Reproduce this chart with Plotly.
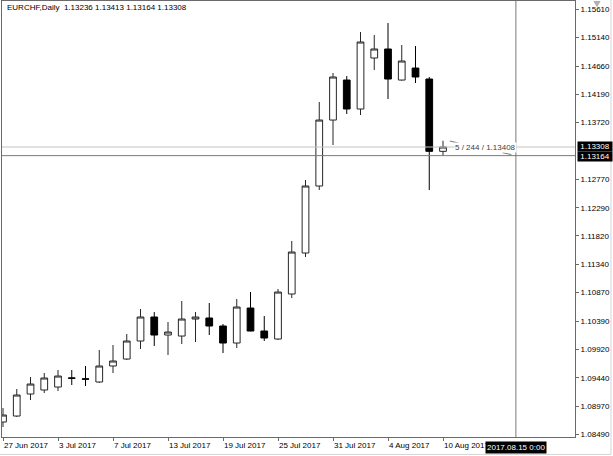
import plotly.graph_objects as go

# ---- data (EURCHF daily) ----
dates = ["27 Jun 2017", "28 Jun 2017", "29 Jun 2017", "30 Jun 2017",
         "3 Jul 2017", "4 Jul 2017", "5 Jul 2017", "6 Jul 2017", "7 Jul 2017",
         "10 Jul 2017", "11 Jul 2017", "12 Jul 2017", "13 Jul 2017", "14 Jul 2017",
         "17 Jul 2017", "18 Jul 2017", "19 Jul 2017", "20 Jul 2017", "21 Jul 2017",
         "24 Jul 2017", "25 Jul 2017", "26 Jul 2017", "27 Jul 2017", "28 Jul 2017",
         "31 Jul 2017", "1 Aug 2017", "2 Aug 2017", "3 Aug 2017", "4 Aug 2017",
         "7 Aug 2017", "8 Aug 2017", "9 Aug 2017", "10 Aug 2017"]

opens = [1.08702, 1.08802, 1.09171, 1.09238, 1.09288, 1.09441, 1.09425, 1.09372,
         1.09640, 1.09757, 1.10059, 1.10461, 1.10159, 1.10142, 1.10427, 1.10444,
         1.10310, 1.10025, 1.10611, 1.10226, 1.10092, 1.10846, 1.11533, 1.12655,
         1.13760, 1.14430, 1.13945, 1.14799, 1.14950, 1.14430, 1.14631, 1.14447,
         1.13236]
highs = [1.08936, 1.09255, 1.09456, 1.09523, 1.09573, 1.09573, 1.09640, 1.09908,
         1.09992, 1.10176, 1.10595, 1.10544, 1.10377, 1.10729, 1.10544, 1.10695,
         1.10343, 1.10762, 1.10879, 1.10477, 1.10930, 1.11734, 1.12755, 1.14062,
         1.14548, 1.14497, 1.15234, 1.15184, 1.15385, 1.15017, 1.15000, 1.14481,
         1.13413]
lows = [1.08618, 1.08786, 1.09070, 1.09188, 1.09221, 1.09322, 1.09305, 1.09355,
        1.09523, 1.09740, 1.09925, 1.09975, 1.09824, 1.10008, 1.10042, 1.10159,
        1.09858, 1.09941, 1.10220, 1.10059, 1.10075, 1.10779, 1.11466, 1.12588,
        1.13342, 1.13861, 1.13844, 1.14598, 1.14112, 1.14420, 1.14380, 1.12588,
        1.13164]
closes = [1.08819, 1.09154, 1.09338, 1.09439, 1.09472, 1.09435, 1.09420, 1.09640,
          1.09724, 1.10059, 1.10461, 1.10159, 1.10209, 1.10427, 1.10461, 1.10310,
          1.10025, 1.10628, 1.10226, 1.10109, 1.10879, 1.11549, 1.12655, 1.13760,
          1.14481, 1.13945, 1.15067, 1.14950, 1.14447, 1.14749, 1.14481, 1.13236,
          1.13308]

x_tick_idx = [0, 4, 8, 12, 16, 20, 24, 28, 32]
x_tick_labels = ["27 Jun 2017", "3 Jul 2017", "7 Jul 2017", "13 Jul 2017",
                 "19 Jul 2017", "25 Jul 2017", "31 Jul 2017", "4 Aug 2017",
                 "10 Aug 2017"]
y_tick_vals = [1.15610, 1.15140, 1.14660, 1.14190, 1.13720, 1.12770, 1.12290,
               1.11820, 1.11340, 1.10870, 1.10390, 1.09920, 1.09440, 1.08970,
               1.08490]
y_tick_labels = ["%.5f" % v for v in y_tick_vals]

symbol_title = "EURCHF,Daily"
bid_price = 1.13308
cross_price = 1.13164
cross_idx = 37.3
cross_time_label = "2017.08.15 0:00"
drag_start_idx = 32.5
drag_start_price = 1.13408
measure_label = "5 / 244 / 1.13408"

FONT = "Liberation Sans, Arial, sans-serif"
FS = 8
AXC = "#6a6a6a"

x = list(range(len(dates)))

fig = go.Figure()
fig.add_trace(go.Candlestick(
    x=x, open=opens, high=highs, low=lows, close=closes,
    increasing=dict(fillcolor="#ffffff", line=dict(color="#262626", width=1)),
    decreasing=dict(fillcolor="#000000", line=dict(color="#000000", width=1)),
    whiskerwidth=0, hoverinfo="skip", showlegend=False,
))

# bid line, crosshair, measuring line
fig.add_shape(type="line", xref="paper", x0=0, x1=1, yref="y", y0=bid_price, y1=bid_price,
              line=dict(color="#c4c4c4", width=1))
fig.add_shape(type="line", xref="paper", x0=0, x1=1, yref="y", y0=cross_price, y1=cross_price,
              line=dict(color="#7a7a7a", width=1))
fig.add_shape(type="line", xref="x", x0=cross_idx, x1=cross_idx, yref="paper", y0=0, y1=1,
              line=dict(color="#7a7a7a", width=1))
fig.add_shape(type="line", xref="x", x0=drag_start_idx, x1=cross_idx,
              yref="y", y0=drag_start_price, y1=cross_price,
              line=dict(color="#7a7a7a", width=1, dash="dash"))

# window decorations
fig.add_shape(type="path", xref="paper", yref="paper",
              path="M 1.0332 0.999 L 1.0436 0.999 L 1.0384 0.9875 Z",
              fillcolor="#b0b0b0", line=dict(color="#b0b0b0", width=1))
fig.add_shape(type="line", xref="paper", yref="paper", x0=1.0628, x1=1.0628, y0=-0.04, y1=1.003,
              line=dict(color="#d4d4d4", width=1))
fig.add_shape(type="line", xref="paper", yref="paper", x0=-0.004, x1=1.0628, y0=-0.04, y1=-0.04,
              line=dict(color="#d4d4d4", width=1))

ohlc_text = " ".join("%.5f" % v for v in (opens[-1], highs[-1], lows[-1], closes[-1]))
annotations = [
    dict(text=symbol_title + "\u00a0\u00a0" + ohlc_text, xref="paper", yref="paper",
         x=0.006, y=1.0, xanchor="left", yanchor="top", showarrow=False,
         font=dict(family=FONT, size=FS, color="#000000")),
    dict(text=measure_label, xref="x", yref="y", x=32.8, y=bid_price,
         xanchor="left", yanchor="middle", showarrow=False, bgcolor="#ffffff",
         borderpad=0, font=dict(family=FONT, size=FS, color="#404040")),
    dict(text="%.5f" % bid_price, xref="paper", yref="y", x=1.0035, y=bid_price,
         xanchor="left", yanchor="middle", showarrow=False, bgcolor="#000000",
         borderpad=1, width=32, height=7, yshift=0.5,
         font=dict(family=FONT, size=FS, color="#ffffff")),
    dict(text="%.5f" % cross_price, xref="paper", yref="y", x=1.0035, y=cross_price,
         xanchor="left", yanchor="middle", showarrow=False, bgcolor="#000000",
         borderpad=1, width=32, height=7, yshift=-0.5,
         font=dict(family=FONT, size=FS, color="#ffffff")),
    dict(text=cross_time_label, xref="x", yref="paper", x=cross_idx, y=0,
         xanchor="center", yanchor="top", yshift=-4, showarrow=False,
         bgcolor="#000000", borderpad=1,
         font=dict(family=FONT, size=FS, color="#ffffff")),
]

fig.update_layout(
    width=613, height=456,
    margin=dict(l=2, r=38, t=1, b=19, pad=0),
    paper_bgcolor="#ffffff", plot_bgcolor="#ffffff",
    hovermode=False, showlegend=False,
    font=dict(family=FONT, size=FS, color="#000000"),
    annotations=annotations,
    xaxis=dict(
        range=[-0.073, 41.6], rangeslider=dict(visible=False),
        tickmode="array", tickvals=x_tick_idx, ticktext=x_tick_labels,
        ticks="outside", ticklen=3, tickcolor=AXC, tickwidth=1,
        ticklabelposition="outside right",
        showline=True, linecolor=AXC, linewidth=1, mirror=True,
        showgrid=False, zeroline=False,
        tickfont=dict(family=FONT, size=FS, color="#000000"),
    ),
    yaxis=dict(
        side="right", range=[1.08451, 1.15754],
        tickmode="array", tickvals=y_tick_vals, ticktext=y_tick_labels,
        ticks="outside", ticklen=3, tickcolor=AXC, tickwidth=1,
        showline=True, linecolor=AXC, linewidth=1, mirror=True,
        showgrid=False, zeroline=False,
        tickfont=dict(family=FONT, size=FS, color="#000000"),
    ),
)

fig.write_html(
    "out.html",
    config={"displayModeBar": False},
    post_script="document.body.style.margin='0';document.body.style.overflow='hidden';",
)
